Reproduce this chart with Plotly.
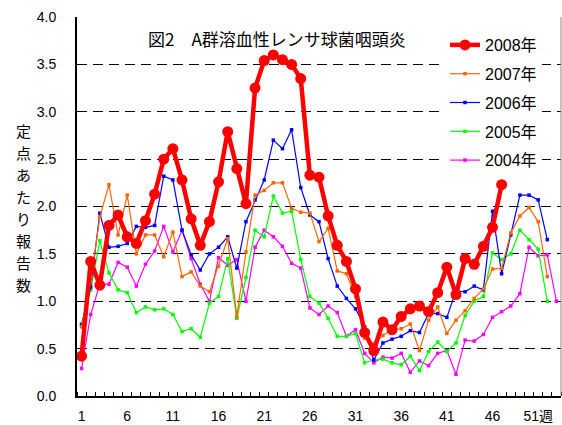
import plotly.graph_objects as go

weeks = list(range(1, 54))

y2008 = [0.42, 1.42, 1.17, 1.80, 1.91, 1.68, 1.61, 1.85, 2.13, 2.50, 2.61, 2.28, 1.87, 1.59, 1.84,
         2.26, 2.79, 2.40, 2.03, 3.25, 3.54, 3.60, 3.55, 3.50, 3.35, 2.33, 2.31, 1.90, 1.59, 1.42,
         1.13, 0.67, 0.48, 0.78, 0.70, 0.84, 0.92, 0.95, 0.89, 1.09, 1.36, 1.07, 1.45, 1.39, 1.58,
         1.78, 2.23]
y2007 = [0.73, 1.21, 1.89, 2.23, 1.70, 2.12, 1.50, 1.70, 1.70, 1.47, 1.73, 1.26, 1.31, 1.16, 1.10,
         1.37, 1.66, 0.84, 1.52, 2.12, 2.17, 2.25, 2.25, 1.98, 1.94, 1.93, 1.63, 1.77, 1.32, 1.29,
         1.05, 0.61, 0.55, 0.64, 0.70, 0.71, 0.76, 0.48, 0.80, 0.94, 0.66, 0.80, 0.90, 1.03, 1.13,
         1.34, 1.35, 1.72, 1.90, 1.99, 1.84, 1.26]
y2006 = [0.75, 1.15, 1.93, 1.57, 1.58, 1.61, 1.79, 1.78, 1.80, 2.32, 2.28, 1.75, 1.49, 1.33, 1.50,
         1.57, 1.68, 1.35, 1.84, 2.07, 2.28, 2.70, 2.61, 2.81, 2.20, 1.91, 1.84, 1.45, 1.16, 1.03,
         0.92, 0.73, 0.38, 0.56, 0.60, 0.63, 0.69, 0.67, 0.87, 0.87, 0.83, 1.11, 1.10, 1.16, 1.12,
         1.95, 1.29, 1.70, 2.12, 2.12, 2.07, 1.65]
y2005 = [0.76, 1.12, 1.64, 1.30, 1.12, 1.09, 0.88, 0.94, 0.91, 0.92, 0.86, 0.68, 0.71, 0.62, 0.98,
         1.05, 1.45, 0.82, 1.25, 1.75, 1.68, 2.11, 1.93, 1.95, 1.44, 1.05, 0.98, 0.82, 0.63, 0.63,
         0.66, 0.35, 0.38, 0.39, 0.35, 0.33, 0.42, 0.27, 0.47, 0.57, 0.47, 0.56, 0.85, 1.00, 1.05,
         1.51, 1.44, 1.50, 1.75, 1.65, 1.55, 1.00]
y2004 = [0.29, 0.86, 1.18, 1.18, 1.41, 1.36, 1.16, 1.39, 1.53, 1.79, 1.52, 1.75, 1.45, 1.18, 1.00,
         1.46, 1.38, 1.44, 1.00, 1.57, 1.75, 1.68, 1.58, 1.40, 1.35, 0.93, 0.86, 0.95, 0.88, 0.63,
         0.70, 0.45, 0.35, 0.41, 0.40, 0.45, 0.25, 0.37, 0.32, 0.45, 0.48, 0.23, 0.59, 0.58, 0.65,
         0.83, 0.89, 0.95, 1.08, 1.57, 1.48, 1.49, 1.00]

series_names = ["2008年", "2007年", "2006年", "2005年", "2004年"]
series_colors = ["#FF0000", "#FF6600", "#0000FF", "#00FF00", "#FF00FF"]
series_values = [y2008, y2007, y2006, y2005, y2004]

x_tick_vals = [1, 6, 11, 16, 21, 26, 31, 36, 41, 46, 51]
x_tick_text = ["1", "6", "11", "16", "21", "26", "31", "36", "41", "46", "51週"]
y_tick_vals = [0, 0.5, 1.0, 1.5, 2.0, 2.5, 3.0, 3.5, 4.0]

title_text = "図2　A群溶血性レンサ球菌咽頭炎"
y_title = "定点あたり報告数"

FONT = "Liberation Sans, Arial, Noto Sans CJK JP, sans-serif"
JFONT = "Noto Sans CJK JP, sans-serif"

# plot-area pixel box
pl, pr, pt, pb = 77, 561, 17, 396
W, H = 562, 425


def px2paper(px, py):
    return (px - pl) / (pr - pl), (pb - py) / (pb - pt)


fig = go.Figure()
order = [4, 3, 2, 1, 0]  # draw 2008 on top
for i in order:
    name, color, vals = series_names[i], series_colors[i], series_values[i]
    if i == 0:
        line = dict(color=color, width=4.5)
        marker = dict(color=color, size=11, symbol="circle")
    else:
        line = dict(color=color, width=1.2)
        marker = dict(color=color, size=3.5, symbol="square")
    fig.add_trace(go.Scatter(
        x=weeks[:len(vals)], y=vals, name=name, mode="lines+markers",
        line=line, marker=marker, legendgroup=name, legendrank=i,
    ))

tx, ty = px2paper(277, 38)
annotations = [
    dict(text=title_text, x=tx, y=ty, xref="paper", yref="paper",
         xanchor="center", yanchor="middle",
         showarrow=False, font=dict(size=17, family=JFONT)),
]
# vertical axis title: one character per line, stacked
for k, ch in enumerate(y_title):
    cx, cy = px2paper(23, 130 + 22.1 * k)
    annotations.append(dict(text=ch, x=cx, y=cy, xref="paper", yref="paper",
                            xanchor="center", yanchor="middle", showarrow=False,
                            font=dict(size=15, family=JFONT)))

lx, ly = px2paper(445, 28)
fig.update_layout(
    width=W, height=H,
    margin=dict(l=pl, r=W - pr, t=pt, b=H - pb),
    paper_bgcolor="white", plot_bgcolor="white",
    font=dict(family=FONT, size=14, color="black"),
    showlegend=True,
    legend=dict(
        x=lx, y=ly, xanchor="left", yanchor="top",
        bgcolor="white", borderwidth=0,
        font=dict(size=16, family=FONT),
        traceorder="grouped", tracegroupgap=5,
    ),
    annotations=annotations,
)

fig.update_xaxes(
    range=[0.5, 53.5], tickmode="array", tickvals=x_tick_vals, ticktext=x_tick_text,
    ticks="", showgrid=False, zeroline=False,
    showline=True, linecolor="black", linewidth=2,
    tickfont=dict(size=14), ticklabelstandoff=6,
    minor=dict(ticks="inside", ticklen=4, tickcolor="black", tickwidth=1,
               tick0=0.5, dtick=1, showgrid=False),
)
fig.update_yaxes(
    range=[0, 4.0], tickmode="array", tickvals=y_tick_vals,
    tickformat=".1f", ticks="", showgrid=True, gridcolor="black", gridwidth=1,
    griddash="10px,6px", zeroline=False,
    showline=True, linecolor="black", linewidth=2,
    tickfont=dict(size=14), ticklabelstandoff=16,
)

fig.add_shape(type="line", xref="paper", yref="paper", x0=1, x1=1, y0=0, y1=1,
              line=dict(color="#888888", width=1))

fig.write_html("out.html", config={"displayModeBar": False},
               post_script="document.body.style.margin='0px';")
